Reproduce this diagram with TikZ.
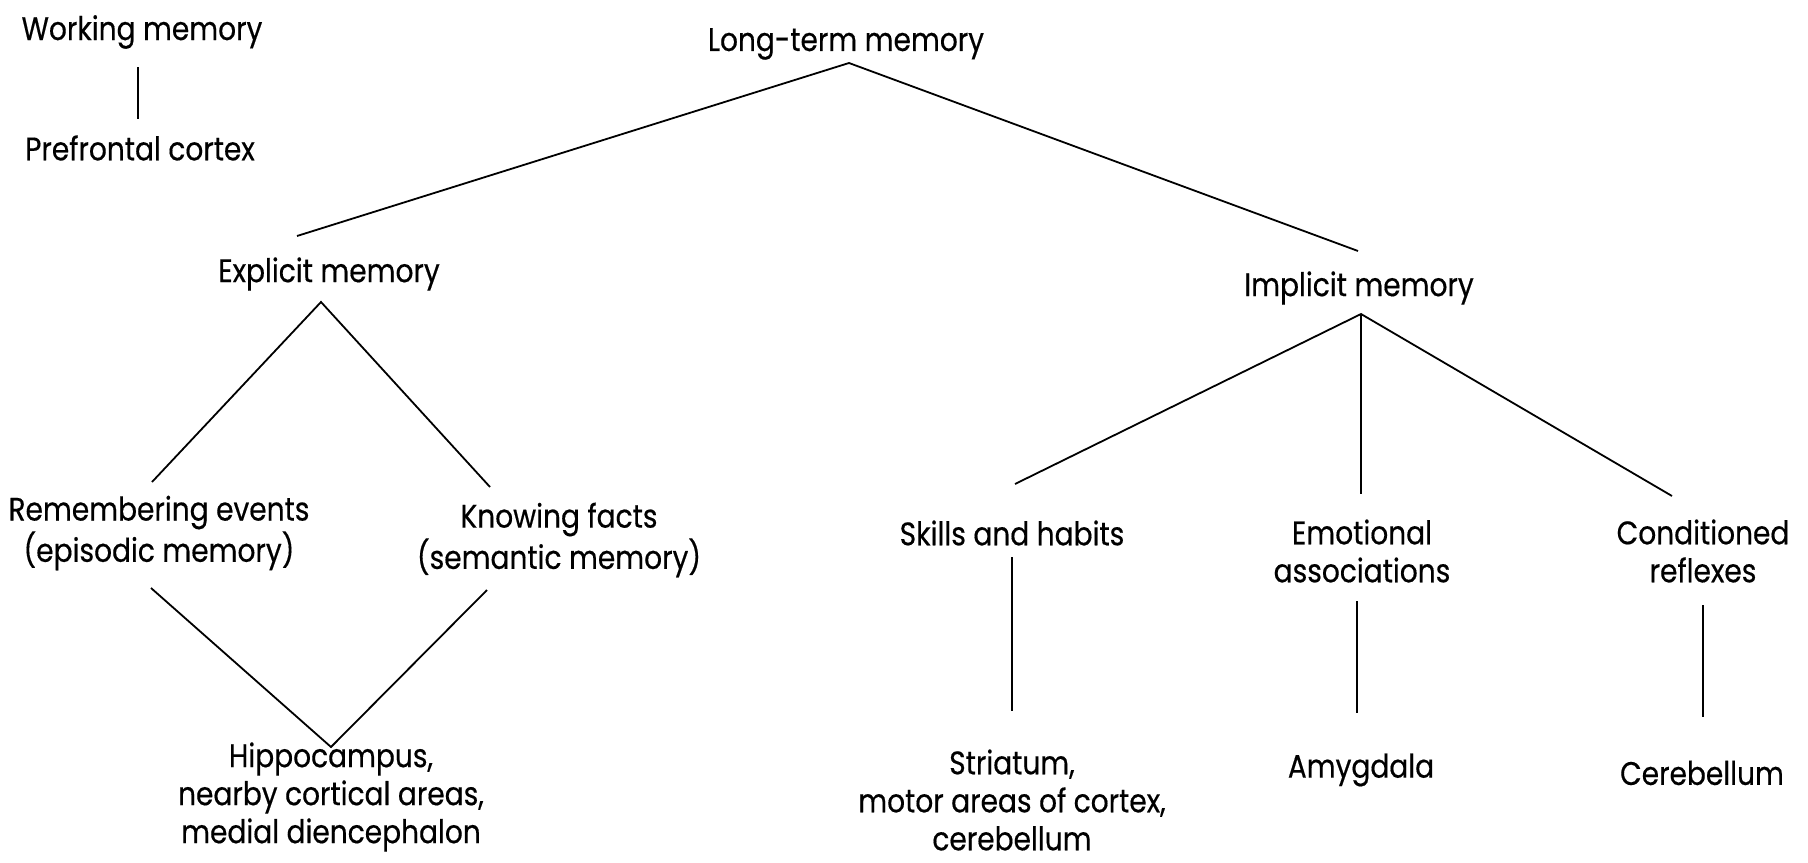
\documentclass[tikz,border=0pt]{standalone}
\usepackage{fontspec}
\setmainfont{Poppins}[FakeStretch=0.86,FakeBold=0.4]
\begin{document}
\begin{tikzpicture}[x=0.5pt,y=-0.5pt,
  lbl/.style={inner sep=0pt,align=center,font=\fontsize{16.3}{19}\selectfont},
  link/.style={line width=0.9pt,black}]
\useasboundingbox[fill=white] (0,0) rectangle (1808,862);
% nodes
\node[lbl] (wm) at (142,32) {Working memory};
\node[lbl] (pfc) at (140,148) {Prefrontal cortex};
\node[lbl] (ltm) at (846,44) {Long-term memory};
\node[lbl] (expl) at (329,274) {Explicit memory};
\node[lbl] (impl) at (1359,288) {Implicit memory};
\node[lbl] (rem) at (159,533) {Remembering events\\(episodic memory)};
\node[lbl] (know) at (559,540) {Knowing facts\\(semantic memory)};
\node[lbl] (hip) at (331,797) {Hippocampus,\\nearby cortical areas,\\medial diencephalon};
\node[lbl] (skill) at (1012,533) {Skills and habits};
\node[lbl] (emo) at (1362,551) {Emotional\\associations};
\node[lbl] (cond) at (1703,551) {Conditioned\\reflexes};
\node[lbl] (stri) at (1012,800) {Striatum,\\motor areas of cortex,\\cerebellum};
\node[lbl] (amy) at (1361,770) {Amygdala};
\node[lbl] (cer) at (1702,773) {Cerebellum};
% connectors
\draw[link] ([shift={(-4,35)}]wm.center) -- ([shift={(-2,-29)}]pfc.center);
\draw[link] ([shift={(-32,-38)}]expl.center) -- ([shift={(3,19)}]ltm.center) -- ([shift={(-1,-37)}]impl.center);
\draw[link] ([shift={(-7,-51)}]rem.center) -- ([shift={(-8,28)}]expl.center) -- ([shift={(-69,-53)}]know.center);
\draw[link] ([shift={(-8,55)}]rem.center) -- ([shift={(0,-50)}]hip.center) -- ([shift={(-72,50)}]know.center);
\draw[link] ([shift={(3,-49)}]skill.center) -- ([shift={(2,26)}]impl.center) -- ([shift={(-31,-55)}]cond.center);
\draw[link] ([shift={(2,26)}]impl.center) -- ([shift={(-1,-57)}]emo.center);
\draw[link] ([shift={(0,24)}]skill.center) -- ([shift={(0,-89)}]stri.center);
\draw[link] ([shift={(-5,50)}]emo.center) -- ([shift={(-4,-57)}]amy.center);
\draw[link] ([shift={(0,54)}]cond.center) -- ([shift={(1,-56)}]cer.center);
\end{tikzpicture}
\end{document}
